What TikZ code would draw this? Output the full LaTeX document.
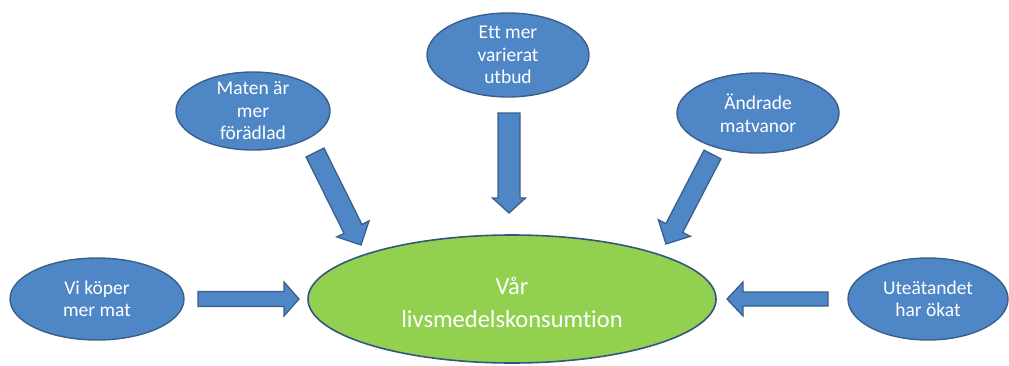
\documentclass[tikz,border=0pt]{standalone}
\usepackage{fontspec}
\setmainfont{Carlito}[Ligatures={NoCommon}]
\usetikzlibrary{shapes.geometric,calc}
\definecolor{bubble}{HTML}{4F86C6}
\definecolor{bubbleedge}{HTML}{3A5F8B}
\definecolor{hub}{HTML}{92D050}
\definecolor{hubedge}{HTML}{35557F}
\tikzset{
  cause/.style={ellipse, draw=bubbleedge, line width=1.4pt, fill=bubble, inner sep=0pt},
  causetext/.style={text=white, align=center, font=\fontsize{19.5}{22.5}\selectfont},
  hubnode/.style={ellipse, draw=hubedge, line width=1.6pt, fill=hub, inner sep=0pt,
    minimum width=408pt, minimum height=128pt},
  hubtext/.style={text=white, align=center, font=\fontsize{24.5}{33}\selectfont},
  blockarrow/.style={fill=bubble, draw=bubbleedge, line width=1.3pt, line join=miter},
}
% block arrow: start, tip, shaft half width, head half width, head length
\newcommand\blockarrow[5]{%
  \coordinate (hb) at ($(#2)!#5!(#1)$);
  \draw[blockarrow] ($(#1)!#3!90:(#2)$) -- ($(hb)!#3!90:(#2)$) -- ($(hb)!#4!90:(#2)$)
    -- (#2) -- ($(hb)!#4!-90:(#2)$) -- ($(hb)!#3!-90:(#2)$) -- ($(#1)!#3!-90:(#2)$) -- cycle;}
\begin{document}
\begin{tikzpicture}[x=1pt, y=-1pt]
  \useasboundingbox (0,0) rectangle (1009,365);

  % central ellipse
  \node[hubnode] (hub) at (512,299) {};
  \node[hubtext] (hubt) at (512,302) {Vår\\livsmedelskonsumtion};

  % causes
  \node[cause, minimum width=174pt, minimum height=82pt] (buy) at (97,299) {};
  \node[causetext] (buyt) at (buy) {Vi köper\\mer mat};
  \node[cause, minimum width=154pt, minimum height=78pt] (proc) at (253,111) {};
  \node[causetext] (proct) at (proc) {Maten är\\mer\\förädlad};
  \node[cause, minimum width=162pt, minimum height=84pt] (vari) at (508,55) {};
  \node[causetext] (varit) at (vari) {Ett mer\\varierat\\utbud};
  \node[cause, minimum width=162pt, minimum height=80pt] (habit) at (758,113) {};
  \node[causetext] (habitt) at (habit) {Ändrade\\matvanor};
  \node[cause, minimum width=160pt, minimum height=82pt] (out) at (928,299) {};
  \node[causetext] (outt) at (out) {Uteätandet\\har ökat};

  % arrow ends
  \coordinate (buyS) at (198,299);   \coordinate (buyE) at (299,299);
  \coordinate (procS) at (315,152.5); \coordinate (procE) at (361,245);
  \coordinate (variS) at (509,113);  \coordinate (variE) at (509,213);
  \coordinate (habitS) at (712.5,154.5); \coordinate (habitE) at (666,244);
  \coordinate (outS) at (828,299);   \coordinate (outE) at (727,299);

  \blockarrow{buyS}{buyE}{7.5pt}{17pt}{15pt}
  \blockarrow{procS}{procE}{10pt}{18pt}{18pt}
  \blockarrow{variS}{variE}{11pt}{16.5pt}{15pt}
  \blockarrow{habitS}{habitE}{9.5pt}{18pt}{18pt}
  \blockarrow{outS}{outE}{7pt}{17pt}{16pt}
\end{tikzpicture}
\end{document}
